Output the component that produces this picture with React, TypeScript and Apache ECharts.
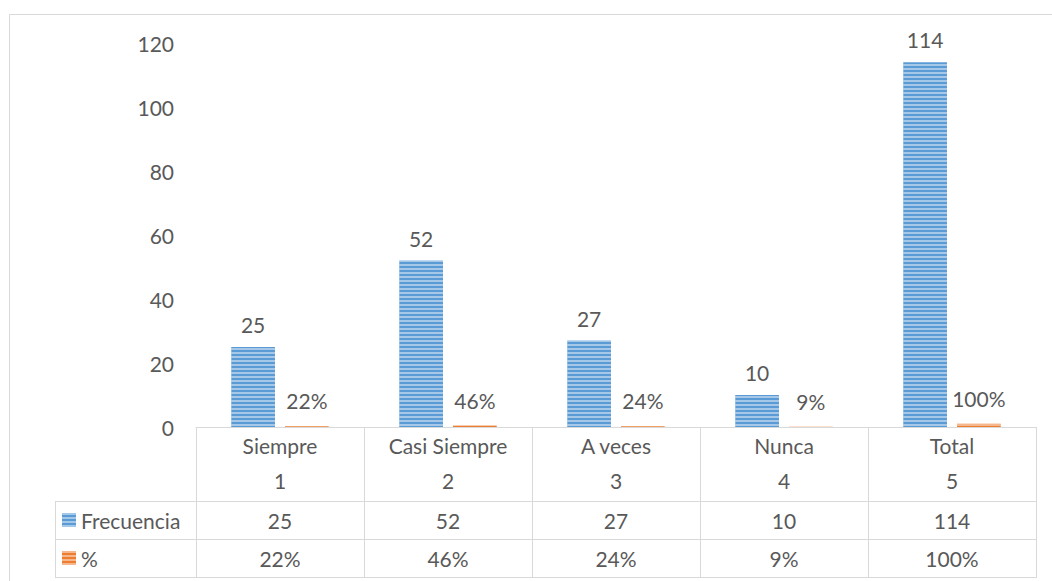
import React, { useEffect, useRef } from "react";
import * as echarts from "echarts";

const categories = ["Siempre", "Casi Siempre", "A veces", "Nunca", "Total"];
const categoryIndex = ["1", "2", "3", "4", "5"];
const frecuencia = [25, 52, 27, 10, 114];
const porcentaje = [0.22, 0.46, 0.24, 0.09, 1.0];
const seriesNames = ["Frecuencia", "%"];

const FONT = "Lato, 'Liberation Sans', sans-serif";
const FS = 21;
const TEXT = "#595959";
const LINE = "#d9d9d9";
const BLUE = "#5B9BD5";
const ORANGE = "#ED7D31";

const G_LEFT = 196;
const G_RIGHT_PX = 1036;
const G_TOP = 43;
const AXIS_Y = 427;
const TABLE_LEFT = 55;
const ROW1 = 501;
const ROW2 = 539;
const ROW3 = 577;

const pct = (v: number) => Math.round(v * 100) + "%";

export default function App() {
  const ref = useRef<HTMLDivElement>(null);
  useEffect(() => {
    document.body.style.margin = "0";
    const chart = echarts.init(ref.current!, undefined, { renderer: "svg" });
    const step = (G_RIGHT_PX - G_LEFT) / categories.length;
    const decal = {
      symbol: "rect",
      symbolSize: 1,
      dashArrayX: [1, 0],
      dashArrayY: [2, 2],
      color: "rgba(255,255,255,0.45)",
      rotation: 0,
    };
    const graphics: any[] = [];
    graphics.push({
      type: "rect",
      shape: { x: 9.5, y: 14.5, width: 1100, height: 700 },
      style: { fill: "none", stroke: LINE, lineWidth: 1 },
      silent: true,
    });
    for (let i = 0; i <= categories.length; i++) {
      const x = Math.round(G_LEFT + i * step) + 0.5;
      graphics.push({
        type: "line",
        shape: { x1: x, y1: AXIS_Y, x2: x, y2: ROW3 },
        style: { stroke: LINE, lineWidth: 1 },
        silent: true,
      });
    }
    graphics.push({
      type: "line",
      shape: { x1: TABLE_LEFT + 0.5, y1: ROW1, x2: TABLE_LEFT + 0.5, y2: ROW3 },
      style: { stroke: LINE, lineWidth: 1 },
      silent: true,
    });
    [ROW1, ROW2, ROW3].forEach((y) =>
      graphics.push({
        type: "line",
        shape: { x1: TABLE_LEFT, y1: y + 0.5, x2: G_RIGHT_PX + 1, y2: y + 0.5 },
        style: { stroke: LINE, lineWidth: 1 },
        silent: true,
      })
    );
    const rows = [frecuencia.map((v) => String(v)), porcentaje.map(pct)];
    rows.forEach((row, r) => {
      const yc = r === 0 ? (ROW1 + ROW2) / 2 : (ROW2 + ROW3) / 2;
      row.forEach((txt, i) => {
        graphics.push({
          type: "text",
          x: G_LEFT + (i + 0.5) * step,
          y: yc,
          style: {
            text: txt,
            fill: TEXT,
            font: `${FS}px ${FONT}`,
            align: "center",
            verticalAlign: "middle",
          },
          silent: true,
        });
      });
    });

    chart.setOption({
      animation: false,
      backgroundColor: "#ffffff",
      textStyle: { fontFamily: FONT },
      grid: {
        left: G_LEFT,
        right: 1052 - G_RIGHT_PX,
        top: G_TOP,
        height: AXIS_Y - G_TOP,
        containLabel: false,
      },
      legend: {
        orient: "vertical",
        left: 62,
        top: 509,
        itemWidth: 14,
        itemHeight: 14,
        itemGap: 16,
        icon: "rect",
        padding: 0,
        data: seriesNames,
        textStyle: { color: TEXT, fontSize: FS, fontFamily: FONT, lineHeight: 22 },
      },
      xAxis: {
        type: "category",
        data: categories,
        axisLine: { show: true, lineStyle: { color: LINE } },
        axisTick: { show: false },
        axisLabel: {
          color: TEXT,
          fontSize: FS,
          fontFamily: FONT,
          lineHeight: 35,
          margin: 1,
          interval: 0,
          formatter: (v: string, i: number) => `${v}\n${categoryIndex[i]}`,
        },
      },
      yAxis: {
        type: "value",
        min: 0,
        max: 120,
        interval: 20,
        splitLine: { show: false },
        axisLine: { show: false },
        axisTick: { show: false },
        axisLabel: { color: TEXT, fontSize: FS, fontFamily: FONT, margin: 22 },
      },
      series: [
        {
          name: seriesNames[0],
          type: "bar",
          data: frecuencia,
          barGap: "23%",
          barCategoryGap: "42%",
          itemStyle: { color: BLUE, decal },
          label: {
            show: true,
            position: "top",
            distance: 12,
            color: TEXT,
            fontSize: FS,
            fontFamily: FONT,
          },
        },
        {
          name: seriesNames[1],
          type: "bar",
          data: porcentaje,
          barGap: "23%",
          barCategoryGap: "42%",
          itemStyle: { color: ORANGE, decal },
          label: {
            show: true,
            position: "top",
            distance: 15,
            color: TEXT,
            fontSize: FS,
            fontFamily: FONT,
            formatter: (p: any) => pct(p.value),
          },
        },
      ],
      graphic: graphics,
    });
    return () => chart.dispose();
  }, []);
  return (
    <div
      ref={ref}
      style={{ position: "absolute", left: 0, top: 0, width: 1052, height: 581 }}
    />
  );
}
